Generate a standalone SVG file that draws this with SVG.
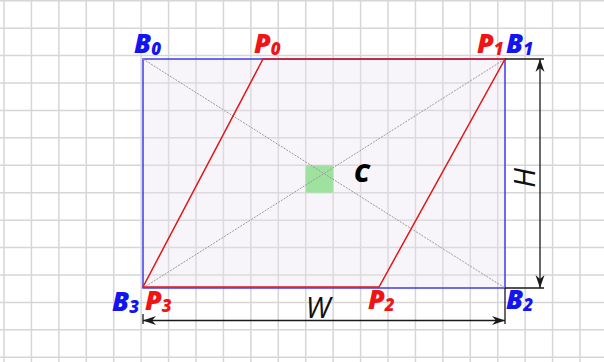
<svg xmlns="http://www.w3.org/2000/svg" width="604" height="362" viewBox="0 0 604 362">
<defs>
<style>
.grid{stroke:#d6d6d6;stroke-width:1.5;fill:none}
.diag{stroke:#9a9a9a;stroke-width:1;stroke-dasharray:2 1.2;fill:none}
.red{stroke:#e01818;stroke-width:1.5;fill:none}
.dim{stroke:#1a1a1a;stroke-width:1.3;fill:none}
.lbl{font-family:"Open Sans","DejaVu Sans",sans-serif;font-weight:800;font-style:italic;font-size:27px}
.blue{fill:#1414f0}
.redt{fill:#f01414}
.sub{font-size:17px}
.dimt{font-family:"Open Sans","DejaVu Sans",sans-serif;font-style:italic;font-size:29px;fill:#111}
</style>
<marker id="arr" viewBox="-14 -6 16 12" markerWidth="16" markerHeight="12" refX="0" refY="0" orient="auto-start-reverse" markerUnits="userSpaceOnUse">
<path d="M0,0 L-13,-4.5 L-9,0 L-13,4.5 Z" fill="#1a1a1a"/>
</marker>
</defs>
<rect width="604" height="362" fill="#ffffff"/>
<g id="grid">
<path class="grid" d="M4,0V362M31.43,0V362M58.86,0V362M86.29,0V362M113.72,0V362M141.15,0V362M168.58,0V362M196.01,0V362M223.44,0V362M250.87,0V362M278.3,0V362M305.73,0V362M333.16,0V362M360.59,0V362M388.02,0V362M415.45,0V362M442.88,0V362M470.31,0V362M497.74,0V362M525.17,0V362M552.6,0V362M580.03,0V362M0,0.7H604M0,28.13H604M0,55.56H604M0,82.99H604M0,110.42H604M0,137.85H604M0,165.28H604M0,192.71H604M0,220.14H604M0,247.57H604M0,275H604M0,302.43H604M0,329.86H604M0,357.29H604"/>
</g>
<g id="rectangle">
<rect x="143" y="59" width="362" height="229" fill="#e8e2f2" fill-opacity="0.35" stroke="#3c3ce6" stroke-width="1.5"/>
</g>
<g id="center-cell">
<rect x="305.73" y="165.28" width="27.43" height="27.43" fill="#9fe29f"/>
</g>
<g id="connectors">
<path class="diag" d="M143,59L505,288"/>
<path class="diag" d="M143,288L505,59"/>
<path class="red" d="M263,59L505,59L379,287L143,287Z"/>
<path class="dim" d="M143,314V324M505,288V324M505,59H544M505,288H544"/>
<path class="dim" d="M143,320.5H505" marker-start="url(#arr)" marker-end="url(#arr)"/>
<path class="dim" d="M540,59V288" marker-start="url(#arr)" marker-end="url(#arr)"/>
</g>
<g id="B0"><text class="lbl blue" x="134" y="53">B<tspan class="sub" dy="2">0</tspan></text></g>
<g id="P0"><text class="lbl redt" x="254" y="53">P<tspan class="sub" dy="2">0</tspan></text></g>
<g id="P1"><text class="lbl redt" x="477" y="53">P<tspan class="sub" dy="2">1</tspan></text></g>
<g id="B1"><text class="lbl blue" x="506" y="53">B<tspan class="sub" dy="2">1</tspan></text></g>
<g id="B2"><text class="lbl blue" x="506" y="309">B<tspan class="sub" dy="2">2</tspan></text></g>
<g id="P2"><text class="lbl redt" x="368" y="309">P<tspan class="sub" dy="2">2</tspan></text></g>
<g id="B3"><text class="lbl blue" x="112" y="311">B<tspan class="sub" dy="2">3</tspan></text></g>
<g id="P3"><text class="lbl redt" x="145" y="310">P<tspan class="sub" dy="2">3</tspan></text></g>
<g id="C"><text class="lbl" x="354" y="182" fill="#000" style="font-size:25px">C</text></g>
<g id="W"><text class="dimt" x="318" y="318" text-anchor="middle">W</text></g>
<g id="H"><text class="dimt" transform="translate(535,178) rotate(-90)" text-anchor="middle">H</text></g>
</svg>
